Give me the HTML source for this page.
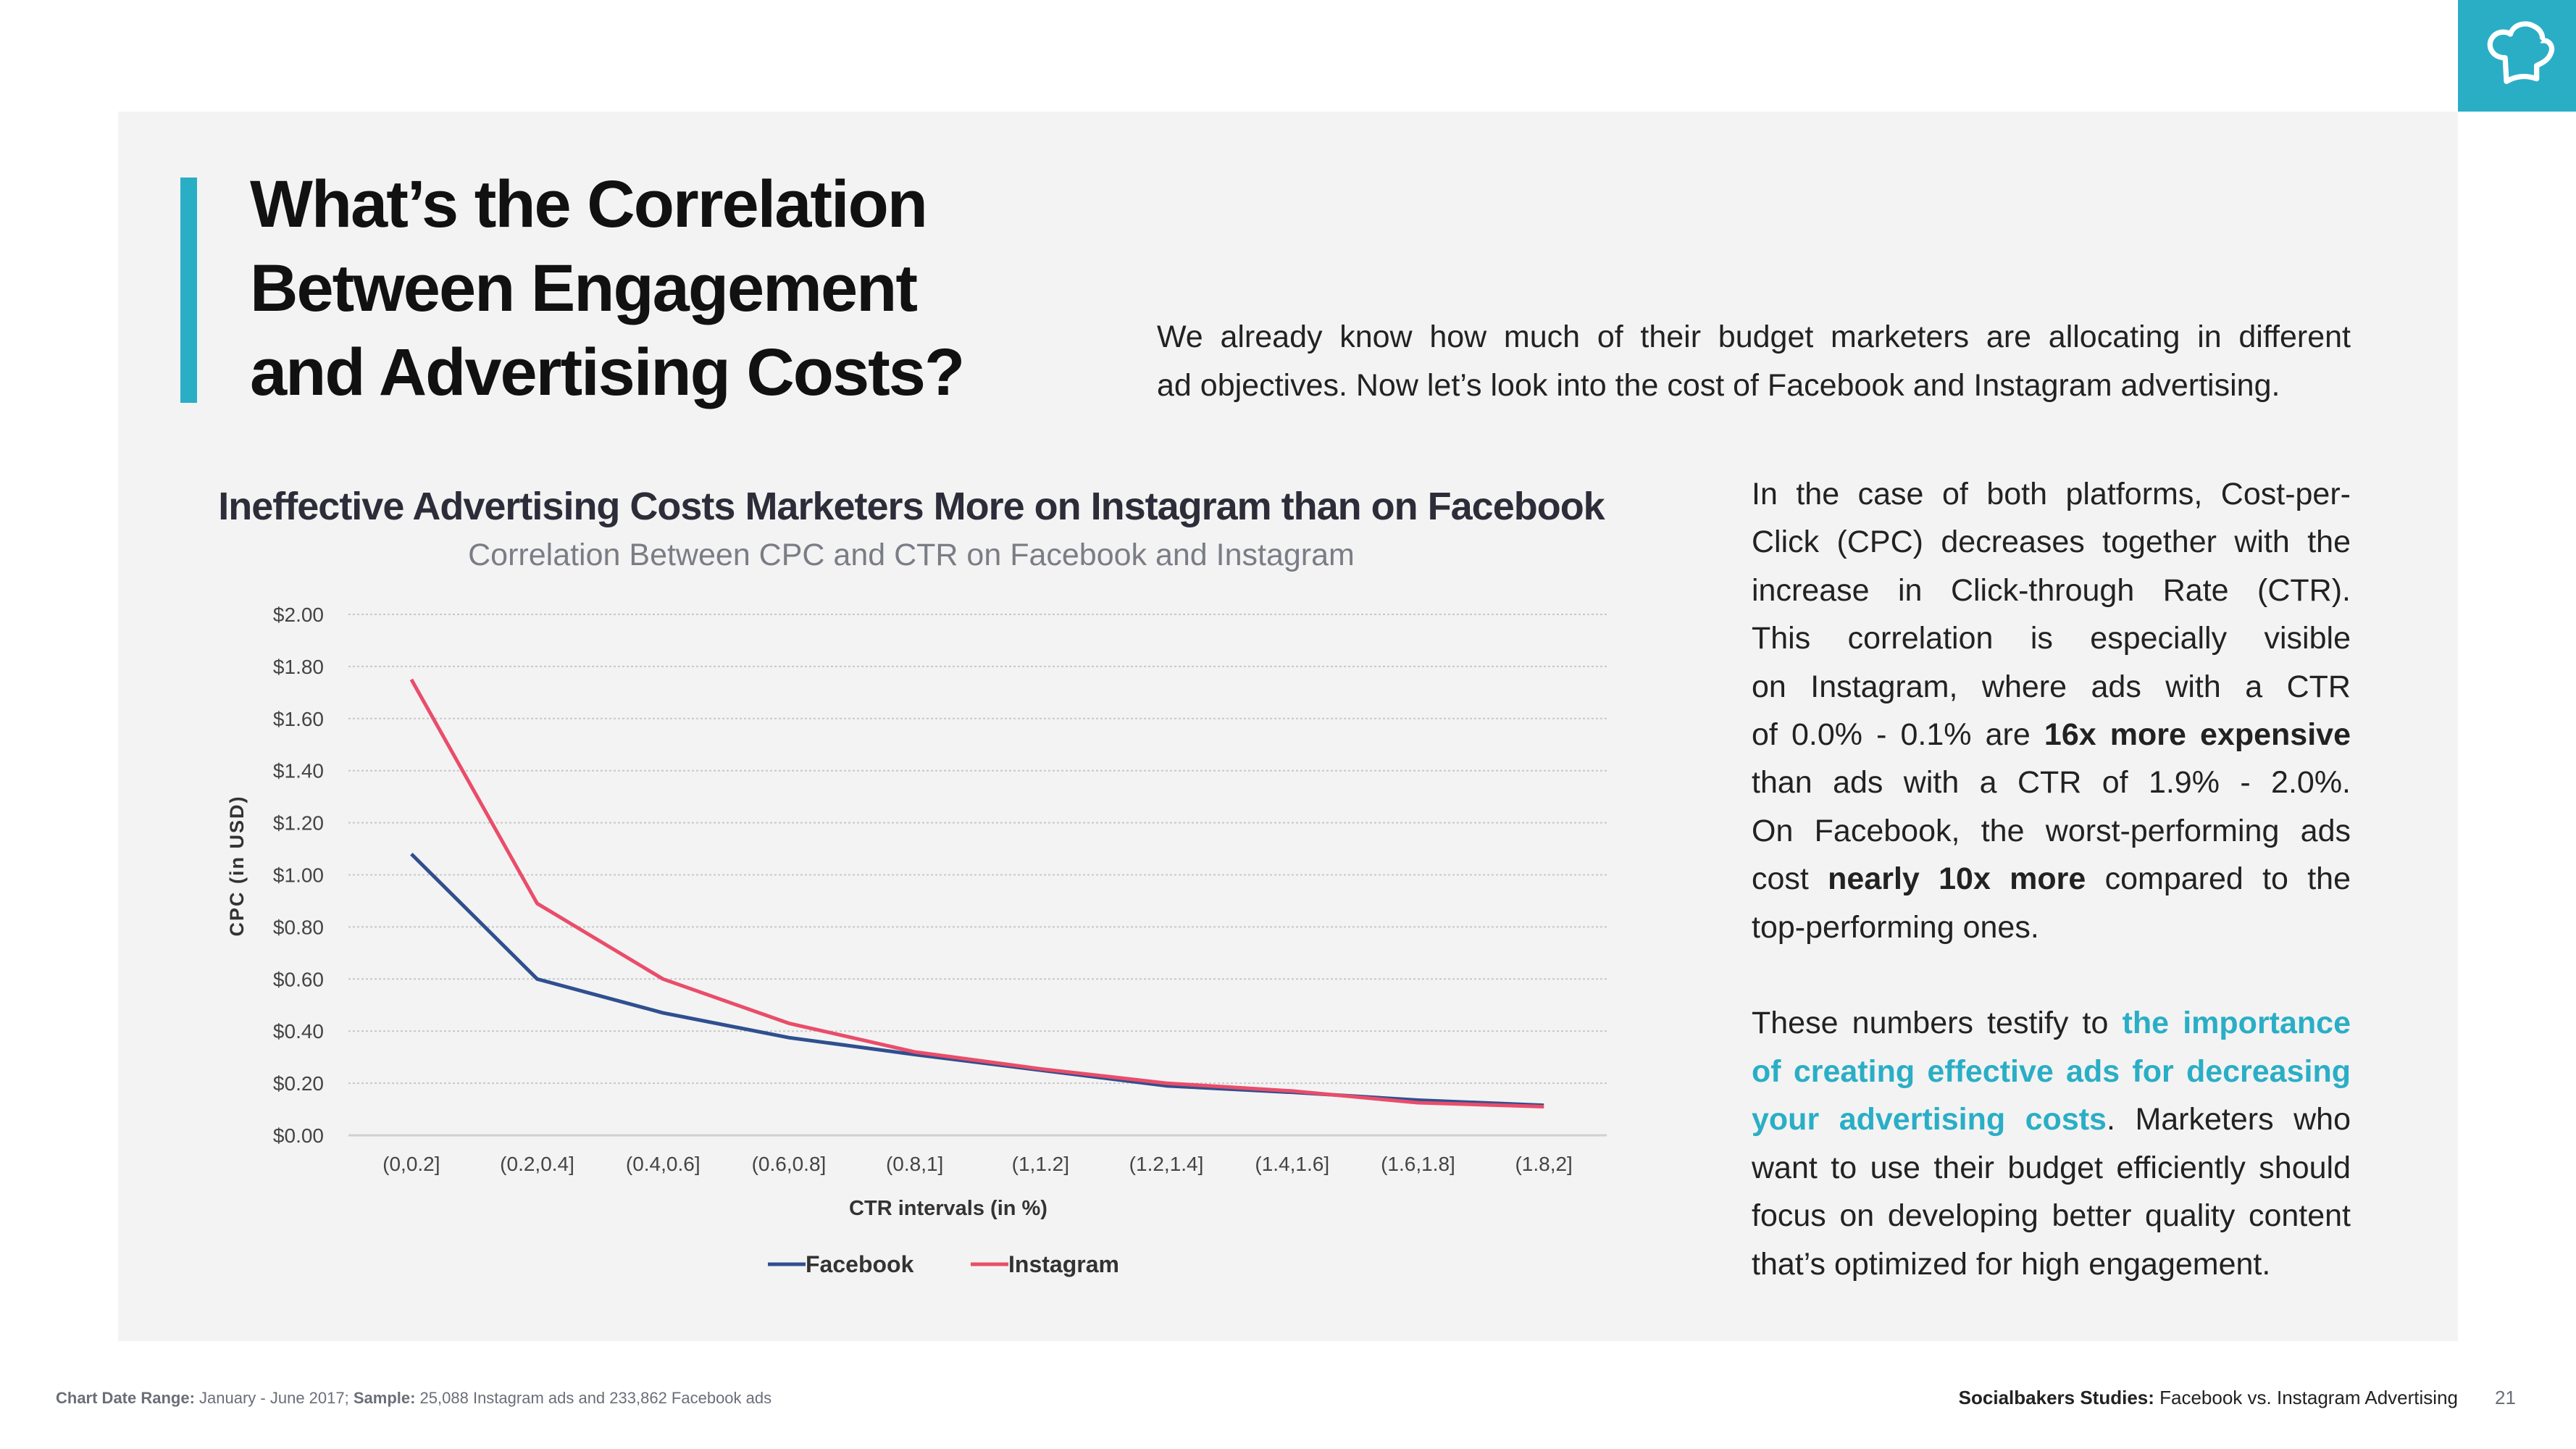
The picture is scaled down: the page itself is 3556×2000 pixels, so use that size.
<!DOCTYPE html>
<html><head><meta charset="utf-8">
<style>
*{margin:0;padding:0;box-sizing:border-box}
body{width:3556px;height:2000px;background:#fff;position:relative;overflow:hidden;font-family:"Liberation Sans",sans-serif}
.abs{position:absolute}
.panel{left:163px;top:154px;width:3230px;height:1697px;background:#f3f3f3}
.logo{left:3393px;top:0;width:163px;height:154px;background:#2aaec6}
.bar{left:249px;top:245px;width:23px;height:311px;background:#2aaec6}
.title{left:345px;top:224px;font-weight:bold;font-size:92px;line-height:116px;color:#111;letter-spacing:-2px}
.para{font-size:43px;line-height:66.4px;color:#222}
.para div{text-align:justify;text-align-last:justify;white-space:nowrap}
.para div.last{text-align-last:left}
.teal{color:#2aaec6;font-weight:bold}
.foot{font-size:22px;color:#6b6e78;top:1917px}
</style></head><body>
<div class="abs panel"></div>
<div class="abs logo">
<svg width="163" height="154" viewBox="0 0 176 170"><path d="M72 124 L70 88 C50 88 42 70 50 58 C58 46 72 48 78 52 C82 38 100 32 114 40 C126 46 128 56 126 62 C136 60 144 70 140 80 C136 92 126 96 118 100 L118 120 C100 114 86 116 72 124 Z" fill="none" stroke="#fff" stroke-width="8" stroke-linejoin="round"/><path d="M114 70 L124 60" stroke="#2aaec6" stroke-width="6"/></svg>
</div>
<div class="abs bar"></div>
<div class="abs title">What’s the Correlation<br>Between Engagement<br>and Advertising Costs?</div>
<div class="abs para" style="left:1597px;top:432px;width:1648px;line-height:67px">
<div>We already know how much of their budget marketers are allocating in different</div>
<div class="last">ad objectives. Now let’s look into the cost of Facebook and Instagram advertising.</div>
</div>
<div class="abs para" style="left:2418px;top:649px;width:827px">
<div>In the case of both platforms, Cost-per-</div>
<div>Click (CPC) decreases together with the</div>
<div>increase in Click-through Rate (CTR).</div>
<div>This correlation is especially visible</div>
<div>on Instagram, where ads with a CTR</div>
<div>of 0.0% - 0.1% are <b>16x more expensive</b></div>
<div>than ads with a CTR of 1.9% - 2.0%.</div>
<div>On Facebook, the worst-performing ads</div>
<div>cost <b>nearly 10x more</b> compared to the</div>
<div class="last">top-performing ones.</div>
<div class="last">&nbsp;</div>
<div>These numbers testify to <span class="teal">the importance</span></div>
<div><span class="teal">of creating effective ads for decreasing</span></div>
<div><span class="teal">your advertising costs</span>. Marketers who</div>
<div>want to use their budget efficiently should</div>
<div>focus on developing better quality content</div>
<div class="last">that’s optimized for high engagement.</div>
</div>
<div class="abs" style="left:200px;top:668px;width:2116px;text-align:center;font-size:54px;font-weight:bold;color:#2d2d3a;letter-spacing:-1px">Ineffective Advertising Costs Marketers More on Instagram than on Facebook</div>
<div class="abs" style="left:200px;top:742px;width:2116px;text-align:center;font-size:43px;color:#7a7d85">Correlation Between CPC and CTR on Facebook and Instagram</div>
<svg class="abs" style="left:0;top:0" width="3556" height="2000" id="chart"></svg>
<div class="abs foot" style="left:77px"><b>Chart Date Range:</b> January - June 2017; <b>Sample:</b> 25,088 Instagram ads and 233,862 Facebook ads</div>
<div class="abs foot" style="right:163px;font-size:26px;color:#222;top:1914px"><b>Socialbakers Studies:</b> Facebook vs. Instagram Advertising</div>
<div class="abs foot" style="left:3444px;font-size:26px;top:1914px">21</div>
<script>
const categories=["(0,0.2]","(0.2,0.4]","(0.4,0.6]","(0.6,0.8]","(0.8,1]","(1,1.2]","(1.2,1.4]","(1.4,1.6]","(1.6,1.8]","(1.8,2]"];
const facebook=[1.08,0.60,0.47,0.375,0.31,0.25,0.19,0.165,0.135,0.115];
const instagram=[1.75,0.89,0.60,0.43,0.32,0.255,0.20,0.17,0.125,0.11];
const yTicks=[0,0.2,0.4,0.6,0.8,1.0,1.2,1.4,1.6,1.8,2.0];
const NS="http://www.w3.org/2000/svg";
const svg=document.getElementById('chart');
const X0=481,X1=2218,Y0=1567,Y1=848;
const step=(X1-X0)/categories.length;
function xs(i){return X0+step*(i+0.5);}
function ys(v){return Y0-(v/2)*(Y0-Y1);}
function mk(t,a){const e=document.createElementNS(NS,t);for(const k in a)e.setAttribute(k,a[k]);svg.appendChild(e);return e;}
yTicks.forEach(v=>{
 const l=mk('line',{x1:X0,x2:X1,y1:ys(v),y2:ys(v),stroke:v===0?'#d0d0d0':'#c8c8c8','stroke-width':v===0?3:2,'stroke-dasharray':v===0?'':'3 3'});
 
 
 const t=mk('text',{x:447,y:ys(v)+10,'text-anchor':'end','font-size':28,fill:'#444','font-family':'Liberation Sans, sans-serif'});
 t.textContent='$'+v.toFixed(2);
 
 
});
categories.forEach((c,i)=>{
 const t=mk('text',{x:xs(i),y:1616,'text-anchor':'middle','font-size':28,fill:'#444','font-family':'Liberation Sans, sans-serif'});
 t.textContent=c;
 
 
});
function series(arr,color,name){
 const p=mk('polyline',{points:arr.map((v,i)=>xs(i)+','+ys(v)).join(' '),fill:'none',stroke:color,'stroke-width':5,'stroke-linejoin':'round'});
 
 
}
series(facebook,'#2f4f8f','facebook-line');
series(instagram,'#e94d6a','instagram-line');
let t=mk('text',{x:1309,y:1677,'text-anchor':'middle','font-size':29,'font-weight':'bold',fill:'#333','font-family':'Liberation Sans, sans-serif'});
t.textContent='CTR intervals (in %)';


t=mk('text',{x:0,y:0,'text-anchor':'middle','font-size':27,'font-weight':'bold',fill:'#333','font-family':'Liberation Sans, sans-serif','letter-spacing':2,transform:'translate(336,1195) rotate(-90)'});
t.textContent='CPC (in USD)';


[['Facebook','#2f4f8f',1060],['Instagram','#e94d6a',1340]].forEach(([n,c,x])=>{
 const l=mk('line',{x1:x,x2:x+52,y1:1745,y2:1745,stroke:c,'stroke-width':5});
 
 
 const tt=mk('text',{x:x+52,y:1756,'font-size':32,'font-weight':'bold',fill:'#333','font-family':'Liberation Sans, sans-serif'});
 tt.textContent=n;
 
 
});
</script>
</body></html>
